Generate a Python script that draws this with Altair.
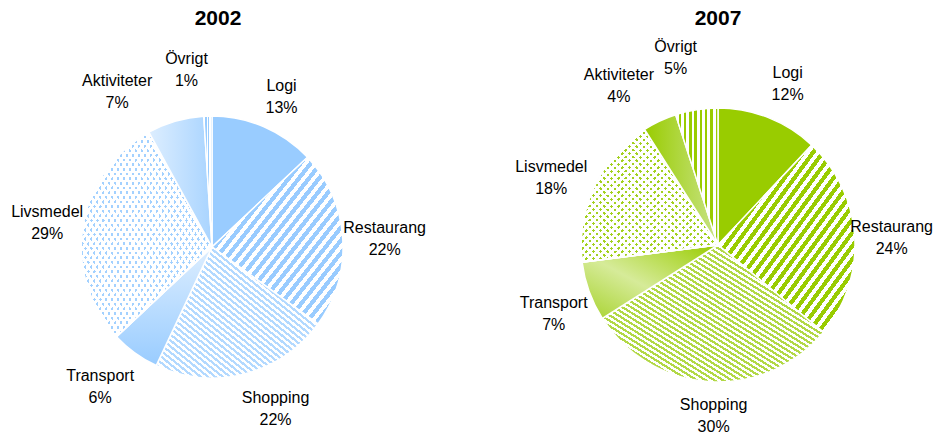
import math
import altair as alt
import pandas as pd

years = ["2002", "2007"]
categories_2002 = ["Logi", "Restaurang", "Shopping", "Transport", "Livsmedel", "Aktiviteter", "Övrigt"]
categories_2007 = ["Logi", "Restaurang", "Shopping", "Transport", "Lisvmedel", "Aktiviteter", "Övrigt"]
values_2002 = [13, 22, 22, 6, 29, 7, 1]
values_2007 = [12, 24, 30, 7, 18, 4, 5]
cats_by_year = {"2002": categories_2002, "2007": categories_2007}
values_by_year = {"2002": values_2002, "2007": values_2007}

rows = []
for yr in years:
    for i, (c, v) in enumerate(zip(cats_by_year[yr], values_by_year[yr])):
        rows.append({"year": yr, "category": c, "value": v, "order": i})
df = pd.DataFrame(rows)

FONT = "Liberation Sans"
THETA = alt.Scale(domain=[0, 100], range=[0, 2 * math.pi])

# layout / style per pie
layout = {
    "2002": dict(cx=204, cy=239, r=131, lr=175, tx=210),
    "2007": dict(cx=710, cy=237, r=137, lr=181, tx=710),
}
# label nudges (dx, dy) per slice, in slice order (first text line is anchored)
label_nudge = {
    "2002": [(0, 0), (-2, -8), (20, -19), (-9, -13), (8, -8), (-46, 2), (-20, -13)],
    "2007": [(3, -4), (-7, -7), (7, -21), (6, -3), (-3, -1), (-22, -6), (-14, -19)],
}
palettes = {
    "2002": dict(base="#99CCFF", light="#DDEEFF", end="#A9D4FF", stripe="#B3D9FF",
                 dot="#A3D1FF", ovr="#99CCFF", tr_end="#99CCFF"),
    "2007": dict(base="#99CC00", light="#D6EB99", end="#C8E385", stripe="#B2D846",
                 dot="#A3D11F", ovr="#99CC00", tr_end="#A6D22B"),
}
WHITE = "#FFFFFF"
CLEAR = "rgba(255,255,255,0)"


def bbox(a0, a1, r):
    angs = [a0, a1] + [k * 90 for k in range(5) if a0 < k * 90 < a1]
    xs = [0] + [r * math.sin(math.radians(a)) for a in angs]
    ys = [0] + [-r * math.cos(math.radians(a)) for a in angs]
    return max(xs) - min(xs), max(ys) - min(ys)


def stripe_stops(c1, c2, n, duty):
    stops = []
    for k in range(n):
        a, b, e = k / n, (k + duty) / n, (k + 1) / n
        stops += [{"offset": round(a, 5), "color": c1}, {"offset": round(b, 5), "color": c1},
                  {"offset": round(b, 5), "color": c2}, {"offset": round(e, 5), "color": c2}]
    return stops


def diag_len(W, H):
    return 2.0 / math.sqrt(1.0 / W ** 2 + 1.0 / H ** 2)


def grad(stops, x1, y1, x2, y2):
    return {"gradient": "linear", "x1": x1, "y1": y1, "x2": x2, "y2": y2, "stops": stops}


def fills_for(idx, yr, W, H):
    p = palettes[yr]
    if idx == 0:  # Logi
        return [p["base"]]
    if idx == 1:  # Restaurang
        n = max(1, round(diag_len(W, H) / 8.0))
        return [grad(stripe_stops(p["base"], WHITE, n, 0.52), 0, 0, 1, 1)]
    if idx == 2:  # Shopping
        n = max(1, round(diag_len(W, H) / 4.6))
        return [grad(stripe_stops(p["stripe"], WHITE, n, 0.48), 0, 1, 1, 0)]
    if idx == 3:  # Transport
        if yr == "2002":
            return [grad([{"offset": 0, "color": p["light"]}, {"offset": 1, "color": p["tr_end"]}], 0, 0, 0, 1)]
        return [grad([{"offset": 0, "color": p["base"]}, {"offset": 0.55, "color": p["light"]},
                      {"offset": 1, "color": p["tr_end"]}], 1, 0, 0, 1)]
    if idx == 4:  # Livsmedel: dots
        n = max(1, round(diag_len(W, H) / 5.0))
        return [p["dot"],
                grad(stripe_stops(CLEAR, WHITE, n, 0.45), 0, 0, 1, 1),
                grad(stripe_stops(CLEAR, WHITE, n, 0.45), 0, 1, 1, 0)]
    if idx == 5:  # Aktiviteter
        if yr == "2002":
            return [grad([{"offset": 0, "color": p["light"]}, {"offset": 1, "color": p["end"]}], 0, 0, 1, 0)]
        return [grad([{"offset": 0, "color": p["base"]}, {"offset": 1, "color": p["end"]}], 0, 0, 1, 0)]
    # Övrigt: vertical stripes
    period = 3.0 if yr == "2002" else 5.5
    n = max(1, round(W / period))
    return [grad(stripe_stops(WHITE, p["ovr"], n, 0.55), 0, 0, 1, 0)]


def base(yr):
    return (
        alt.Chart(df)
        .transform_filter(alt.datum.year == yr)
        .transform_window(end="sum(value)", sort=[alt.SortField("order")], frame=[None, 0])
        .transform_calculate(start="datum.end - datum.value",
                             mid="datum.end - datum.value / 2",
                             label="datum.category + '\\n' + datum.value + '%'")
    )


layers = []
for yr in years:
    L = layout[yr]
    vals = values_by_year[yr]
    cats = cats_by_year[yr]
    cum = 0
    for idx, (cat, v) in enumerate(zip(cats, vals)):
        a0, a1 = cum * 3.6, (cum + v) * 3.6
        cum += v
        W, H = bbox(a0, a1, L["r"])
        for f in fills_for(idx, yr, W, H):
            layers.append(
                base(yr)
                .transform_filter(alt.datum.category == cat)
                .mark_arc(radius=L["r"], fill=f, stroke=WHITE, strokeWidth=1.5)
                .encode(
                    theta=alt.Theta("start:Q", scale=THETA, stack=False),
                    theta2="end:Q",
                    x=alt.value(L["cx"]),
                    y=alt.value(L["cy"]),
                )
            )
    # slice labels
    for idx, cat in enumerate(cats):
        dx, dy = label_nudge[yr][idx]
        layers.append(
            base(yr)
            .transform_filter(alt.datum.category == cat)
            .mark_text(font=FONT, fontSize=16, lineHeight=22, lineBreak="\n",
                       align="center", baseline="middle", color="#000000",
                       dx=dx, dy=dy)
            .encode(
                theta=alt.Theta("mid:Q", scale=THETA, stack=False),
                radius=alt.value(L["lr"]),
                text="label:N",
                x=alt.value(L["cx"]),
                y=alt.value(L["cy"]),
            )
        )
    # pie title
    layers.append(
        alt.Chart(pd.DataFrame({"t": [yr]}))
        .mark_text(font=FONT, fontSize=21, fontWeight="bold", align="center",
                   baseline="middle", color="#000000")
        .encode(text="t:N", x=alt.value(L["tx"]), y=alt.value(11))
    )

chart = (
    alt.layer(*layers)
    .properties(width=927, height=425, padding=0,
                autosize=alt.AutoSizeParams(type="none"))
    .configure_view(stroke=None)
)

chart.save("out.html", embed_options={"renderer": "svg", "actions": False})
